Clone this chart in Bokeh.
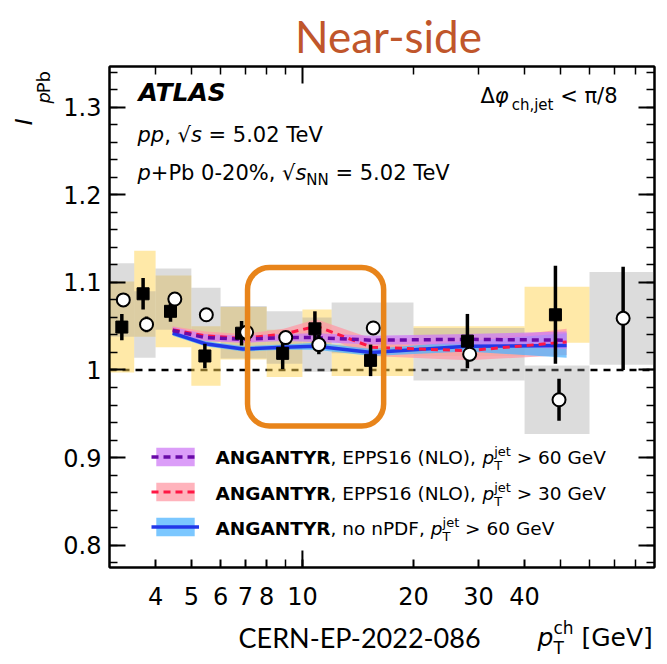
import math
from bokeh.plotting import figure
from bokeh.layouts import column, row
from bokeh.models import (Range1d, FixedTicker, LinearAxis, LogAxis, Label, BoxAnnotation,
                          Legend, LegendItem, Span, CustomJSTickFormatter)
from bokeh.embed import file_html
from bokeh.resources import INLINE

# ---------------- data ----------------
bin_lo = [3.0, 3.5, 4.0, 5.0, 6.0, 8.0, 10.0, 12.0, 20.0, 40.0, 60.0]
bin_hi = [3.5, 4.0, 5.0, 6.0, 8.0, 10.0, 12.0, 20.0, 40.0, 60.0, 90.0]

# filled squares (10 bins)
sq_x = [3.24, 3.70, 4.39, 5.44, 6.84, 8.84, 10.81, 15.3, 28.0, 48.5]
sq_y = [1.049, 1.087, 1.067, 1.016, 1.042, 1.019, 1.047, 1.011, 1.033, 1.063]
sq_stat = [0.015, 0.018, 0.012, 0.014, 0.014, 0.018, 0.020, 0.018, 0.031, 0.056]
sq_syst = [0.052, 0.049, 0.041, 0.034, 0.030, 0.027, 0.022, 0.018, 0.017, 0.032]

# open circles (11 bins)
ci_x = [3.27, 3.78, 4.51, 5.49, 7.06, 9.01, 11.08, 15.56, 28.4, 49.6, 74.0]
ci_y = [1.080, 1.052, 1.081, 1.063, 1.043, 1.037, 1.029, 1.048, 1.018, 0.966, 1.059]
ci_stat = [0.006, 0.009, 0.008, 0.007, 0.008, 0.007, 0.011, 0.008, 0.008, 0.024, 0.059]
ci_syst = [0.042, 0.038, 0.035, 0.031, 0.030, 0.030, 0.031, 0.029, 0.030, 0.039, 0.053]

# ANGANTYR curves
th_x = [4.45, 5.45, 6.9, 8.9, 10.9, 15.4, 28.0, 52.0]
epps60 = [1.045, 1.037, 1.035, 1.037, 1.037, 1.034, 1.035, 1.034]
epps60_err = [0.004, 0.004, 0.004, 0.004, 0.005, 0.005, 0.006, 0.010]
epps30 = [1.046, 1.039, 1.036, 1.041, 1.050, 1.026, 1.022, 1.032]
epps30_err = [0.004, 0.005, 0.005, 0.006, 0.008, 0.010, 0.011, 0.015]
nonpdf = [1.042, 1.030, 1.024, 1.026, 1.027, 1.020, 1.027, 1.028]
nonpdf_err = [0.003, 0.003, 0.003, 0.003, 0.004, 0.004, 0.006, 0.014]

x_tick_vals = [4, 5, 6, 7, 8, 10, 20, 30, 40]
x_minor_vals = [9, 50, 60, 70, 80]
y_tick_vals = [0.8, 0.9, 1.0, 1.1, 1.2, 1.3]

# highlight box (data units)
hl_left, hl_right, hl_bottom, hl_top = 7.1, 16.6, 0.936, 1.117

# ---------------- layout ----------------
X_RANGE = (3.0, 90.0)
Y_RANGE = (0.7745, 1.3465)
W, H = 667, 664
FL, FR, FT, FB = 109, 654, 66, 567      # frame edges (page pixels)
TOP_H = 63                               # strip above main figure
LEFT_W = 58                              # strip left of main figure
BOT_Y = 617                              # strip below main figure starts here
MAIN_W = W - LEFT_W
MAIN_H = BOT_Y - TOP_H
BASE_K = 0.37                            # baseline correction (fraction of font size)

def px2x(px):
    lo, hi = math.log10(X_RANGE[0]), math.log10(X_RANGE[1])
    return 10 ** (lo + (px - FL) / (FR - FL) * (hi - lo))

def px2y(py):
    return Y_RANGE[1] - (py - FT) / (FB - FT) * (Y_RANGE[1] - Y_RANGE[0])

p = figure(width=MAIN_W, height=MAIN_H, x_axis_type="log",
           x_range=Range1d(*X_RANGE), y_range=Range1d(*Y_RANGE),
           output_backend="svg", toolbar_location=None,
           min_border_left=FL - LEFT_W, min_border_right=W - FR,
           min_border_top=FT - TOP_H, min_border_bottom=BOT_Y - FB)
p.xgrid.visible = False
p.ygrid.visible = False
p.outline_line_color = "black"
p.outline_line_width = 2
p.background_fill_color = "white"

def blank(w, h):
    f = figure(width=w, height=h, x_range=Range1d(0, w), y_range=Range1d(0, h),
               output_backend="svg", toolbar_location=None,
               x_axis_location=None, y_axis_location=None,
               min_border=0, min_border_left=0, min_border_right=0,
               min_border_top=0, min_border_bottom=0)
    f.xgrid.visible = False
    f.ygrid.visible = False
    f.outline_line_color = None
    f.background_fill_color = "white"
    f.border_fill_color = "white"
    return f

top = blank(W, TOP_H)
left = blank(LEFT_W, MAIN_H)
bottom = blank(W, H - BOT_Y)

# axes
yminor = [round(0.78 + 0.02 * i, 2) for i in range(29)]
def style_y(ax, labels=True):
    ax.ticker = FixedTicker(ticks=y_tick_vals, minor_ticks=yminor)
    ax.axis_line_width = 2
    ax.major_tick_in = 16
    ax.major_tick_out = 0
    ax.minor_tick_in = 8
    ax.minor_tick_out = 0
    ax.major_tick_line_width = 2
    ax.minor_tick_line_width = 1.5
    if labels:
        ax.formatter = CustomJSTickFormatter(code="return tick.toFixed(1).replace(/\\.0$/, '')")
        ax.major_label_text_font = "DejaVu Sans"
        ax.major_label_text_font_size = "24px"
        ax.major_label_text_color = "black"
        ax.major_label_standoff = 8
    else:
        ax.major_label_text_font_size = "1px"
        ax.major_label_text_color = None
        ax.major_label_standoff = 0

def style_x(ax, labels=True):
    ax.axis_line_width = 2
    ax.major_tick_out = 0
    ax.minor_tick_out = 0
    ax.major_tick_line_width = 2
    ax.minor_tick_line_width = 1.5
    if labels:
        ax.ticker = FixedTicker(ticks=x_tick_vals, minor_ticks=x_minor_vals)
        ax.major_tick_in = 8
        ax.minor_tick_in = 8
        ax.formatter = CustomJSTickFormatter(code="return String(Math.round(tick))")
        ax.major_label_text_font = "DejaVu Sans"
        ax.major_label_text_font_size = "24px"
        ax.major_label_text_color = "black"
        ax.major_label_standoff = 19
    else:
        ax.ticker = FixedTicker(ticks=[10], minor_ticks=[4, 5, 6, 7, 8, 9, 20, 30, 40, 50, 60, 70, 80])
        ax.major_tick_in = 17
        ax.minor_tick_in = 8
        ax.major_label_text_font_size = "1px"
        ax.major_label_text_color = None
        ax.major_label_standoff = 0

style_y(p.yaxis[0], True)
style_x(p.xaxis[0], True)
ry = LinearAxis(); style_y(ry, False); p.add_layout(ry, "right")
tx = LogAxis(); style_x(tx, False); p.add_layout(tx, "above")

# long bottom tick at 10
p.segment(x0=[10], x1=[10], y0=[Y_RANGE[0]], y1=[Y_RANGE[0] + 17 * (Y_RANGE[1] - Y_RANGE[0]) / (FB - FT)],
          line_color="black", line_width=2)

# reference line at 1
p.add_layout(Span(location=1.0, dimension="width", line_color="black", line_width=2.5,
                  line_dash="7 6", level="underlay"))

# systematic boxes
sq_lo = bin_lo[:len(sq_y)]
sq_hi = bin_hi[:len(sq_y)]
p.quad(left=sq_lo, right=sq_hi,
       bottom=[y - s for y, s in zip(sq_y, sq_syst)], top=[y + s for y, s in zip(sq_y, sq_syst)],
       fill_color="#FFD351", fill_alpha=0.5, line_color=None)
p.quad(left=bin_lo, right=bin_hi,
       bottom=[y - s for y, s in zip(ci_y, ci_syst)], top=[y + s for y, s in zip(ci_y, ci_syst)],
       fill_color="#9B9B9B", fill_alpha=0.35, line_color=None)

# model bands
def lo_hi(v, e):
    return [a - b for a, b in zip(v, e)], [a + b for a, b in zip(v, e)]

b30 = p.varea(x=th_x, y1=lo_hi(epps30, epps30_err)[0], y2=lo_hi(epps30, epps30_err)[1],
              fill_color="#FF9AA6", fill_alpha=0.75)
bno = p.varea(x=th_x, y1=lo_hi(nonpdf, nonpdf_err)[0], y2=lo_hi(nonpdf, nonpdf_err)[1],
              fill_color="#4FB4FF", fill_alpha=0.75)
b60 = p.varea(x=th_x, y1=lo_hi(epps60, epps60_err)[0], y2=lo_hi(epps60, epps60_err)[1],
              fill_color="#CF7CF5", fill_alpha=0.75)
lno = p.line(th_x, nonpdf, line_color="#2238E8", line_width=3.5)
l30 = p.line(th_x, epps30, line_color="#FF1744", line_width=3, line_dash="7 5")
l60 = p.line(th_x, epps60, line_color="#6A0AA8", line_width=3.5, line_dash="7 5")

# stat error bars and markers
p.segment(x0=sq_x, x1=sq_x, y0=[y - e for y, e in zip(sq_y, sq_stat)],
          y1=[y + e for y, e in zip(sq_y, sq_stat)], line_color="black", line_width=3.5)
p.segment(x0=ci_x, x1=ci_x, y0=[y - e for y, e in zip(ci_y, ci_stat)],
          y1=[y + e for y, e in zip(ci_y, ci_stat)], line_color="black", line_width=3.5)
p.scatter(sq_x, sq_y, marker="square", size=12, fill_color="black", line_color="black")
p.scatter(ci_x, ci_y, marker="circle", size=13, fill_color="white", line_color="black", line_width=2)

# legend (swatches only; texts drawn as labels)
legend = Legend(items=[
    LegendItem(label="", renderers=[b60, l60]),
    LegendItem(label="", renderers=[b30, l30]),
    LegendItem(label="", renderers=[bno, lno]),
], location=(151 - FL, FB - 538), glyph_width=48, glyph_height=23, label_height=23,
    label_width=1, label_standoff=0, spacing=12, padding=0, margin=0,
    background_fill_alpha=0, border_line_alpha=0, label_text_font_size="4px")
p.add_layout(legend)

# highlight box
p.add_layout(BoxAnnotation(left=hl_left, right=hl_right, bottom=hl_bottom, top=hl_top,
                           fill_alpha=0, line_color="#E8841A", line_alpha=1.0, line_width=5.5,
                           border_radius=22))

# ---------------- texts ----------------
REG = {' ': 318, '!': 400, '%': 950, '(': 390, ')': 390, '+': 838, ',': 318, '-': 361, '.': 318,
       '/': 337, '<': 838, '=': 838, '>': 838, '[': 390, ']': 390,
       'A': 684, 'B': 686, 'C': 698, 'D': 770, 'E': 632, 'F': 575, 'G': 775, 'H': 752, 'I': 295,
       'J': 295, 'K': 656, 'L': 557, 'M': 863, 'N': 748, 'O': 787, 'P': 603, 'Q': 787, 'R': 695,
       'S': 635, 'T': 611, 'U': 732, 'V': 684, 'W': 989, 'X': 685, 'Y': 611, 'Z': 685,
       'a': 613, 'b': 635, 'c': 550, 'd': 635, 'e': 615, 'f': 352, 'g': 635, 'h': 634, 'i': 278,
       'j': 278, 'k': 579, 'l': 278, 'm': 974, 'n': 634, 'o': 612, 'p': 635, 'q': 635, 'r': 411,
       's': 521, 't': 392, 'u': 634, 'v': 592, 'w': 818, 'x': 592, 'y': 592, 'z': 525,
       'Δ': 684, 'φ': 800, 'π': 600, '√': 636}
for d in "0123456789":
    REG[d] = 636
BOLD = {'A': 774, 'N': 837, 'G': 821, 'T': 682, 'Y': 724, 'R': 770, 'L': 637, 'S': 720, ' ': 348, ',': 380}

def tw(s, size, style):
    tot = 0
    for c in s:
        if "bold" in style:
            tot += BOLD.get(c, REG.get(c, 620) * 1.1)
        else:
            tot += REG.get(c, 620)
    return tot * size / 1000.0

# page-pixel -> data mapping for each figure
MAPS = {
    "main": (p, px2x, px2y),
    "top": (top, lambda gx: gx, lambda gy: TOP_H - gy),
    "left": (left, lambda gx: gx, lambda gy: (TOP_H + MAIN_H) - gy),
    "bottom": (bottom, lambda gx: gx, lambda gy: H - gy),
}

def put(where, gx, gy, text, size, style="normal", font="DejaVu Sans", color="black",
        align="left", angle=0.0):
    fig, mx, my = MAPS[where]
    if angle == 0.0:
        gy = gy - BASE_K * size
    else:
        gx = gx - BASE_K * size
    fig.add_layout(Label(x=mx(gx), y=my(gy), text=text, text_font=font, text_font_size=f"{size}px",
                         text_font_style=style, text_color=color, text_align=align,
                         text_baseline="alphabetic", angle=angle))

def rich(where, x_px, base_px, segs, font="DejaVu Sans", color="black"):
    pos = x_px
    for item in segs:
        group = item if isinstance(item, list) else [item]
        adv = 0
        for (t, size, style, shift) in group:
            lead = len(t) - len(t.lstrip(" "))
            off = tw(" " * lead, size, style)
            put(where, pos + off, base_px + shift, t.strip(" "), size, style, font, color)
            adv = max(adv, tw(t, size, style))
        pos += adv

rich("main", 138, 101, [("ATLAS", 25, "bold italic", 0)])
rich("main", 137, 142, [("pp", 21, "italic", 0), (", ", 21, "normal", 0), ("√", 21, "normal", 0),
                        ("s", 21, "italic", 0), (" = 5.02 TeV", 21, "normal", 0)])
rich("main", 137, 180, [("p", 21, "italic", 0), ("+Pb 0-20%, ", 21, "normal", 0), ("√", 21, "normal", 0),
                        ("s", 21, "italic", 0), ("NN", 15, "normal", 5), (" = 5.02 TeV", 21, "normal", 0)])
rich("main", 480, 103, [("Δ", 21, "normal", 0), ("φ", 21, "italic", 0), ("ch,jet", 15, "normal", 7),
                        (" < π/8", 21, "normal", 0)])

LS = 18.5
leg_texts = [
    [("ANGANTYR", LS, "bold", 0), (", EPPS16 (NLO), ", LS, "normal", 0), ("p", LS, "italic", 0),
     [("jet", 13, "normal", -8), ("T", 13, "normal", 6)], (" > 60 GeV", LS, "normal", 0)],
    [("ANGANTYR", LS, "bold", 0), (", EPPS16 (NLO), ", LS, "normal", 0), ("p", LS, "italic", 0),
     [("jet", 13, "normal", -8), ("T", 13, "normal", 6)], (" > 30 GeV", LS, "normal", 0)],
    [("ANGANTYR", LS, "bold", 0), (", no nPDF, ", LS, "normal", 0), ("p", LS, "italic", 0),
     [("jet", 13, "normal", -8), ("T", 13, "normal", 6)], (" > 60 GeV", LS, "normal", 0)],
]
for i, segs in enumerate(leg_texts):
    rich("main", 215, 464 + 35.5 * i, segs)

# x-axis title
rich("bottom", 537, 646, [("p", 25, "italic", 0), [("ch", 17, "normal", -12), ("T", 17, "normal", 8)],
                          (" [GeV]", 25, "normal", 0)])

# y-axis title (rotated, reading upwards)
put("left", 32, 128, "I", 23, "italic", angle=math.pi / 2)
put("left", 50, 104, "p", 18, "italic", angle=math.pi / 2)
put("left", 50, 104 - tw("p", 18, "italic"), "Pb", 18, "normal", angle=math.pi / 2)

# title and reference
put("top", 388, 52, "Near-side", 44, "normal", font="Lato", color="#C0562B", align="center")
put("bottom", 238, 647, "CERN-EP-2022-086", 27, "normal", font="Lato")

layout = column(top, row(left, p, spacing=0), bottom, spacing=0)
open("out.html", "w").write(file_html(layout, INLINE))
